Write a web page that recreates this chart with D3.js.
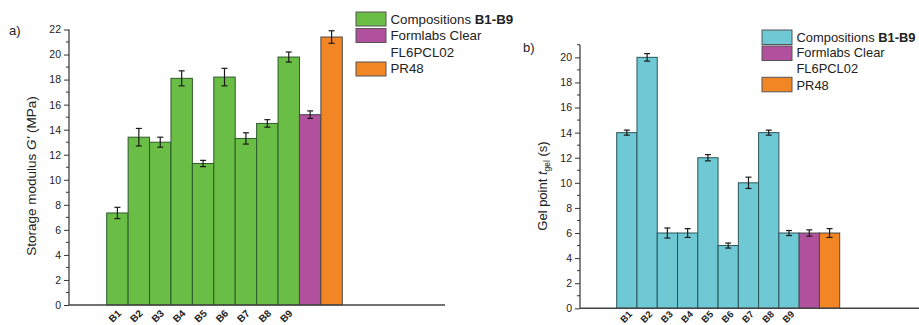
<!DOCTYPE html>
<html><head><meta charset="utf-8">
<script src="https://cdn.jsdelivr.net/npm/d3@7/dist/d3.min.js"></script>
<style>
body{margin:0;background:#fff;}
text{font-family:"Liberation Sans",Arial,sans-serif;fill:#222;}
</style></head>
<body><svg id="c" width="919" height="325"></svg>
<script>
// ---- data ----
const categories = ["B1","B2","B3","B4","B5","B6","B7","B8","B9","Formlabs","PR48"];
const tickLabels = ["B1","B2","B3","B4","B5","B6","B7","B8","B9","",""];
const groups = ["comp","comp","comp","comp","comp","comp","comp","comp","comp","formlabs","pr48"];
const storageModulus = [7.35,13.4,13.0,18.1,11.3,18.2,13.3,14.5,19.8,15.2,21.4];
const storageErr =     [0.45,0.7,0.4,0.6,0.25,0.7,0.45,0.3,0.4,0.3,0.5];
const gelPoint = [14,20,6,6,12,5,10,14,6,6,6];
const gelErr =   [0.2,0.3,0.4,0.35,0.25,0.2,0.45,0.2,0.2,0.25,0.35];
const legendLabels = [["Compositions ","B1-B9"],["Formlabs Clear",""],["FL6PCL02",""],["PR48",""]];

const svg = d3.select("#c");

function panel(o){
  const g = svg.append("g");
  const x = d3.scaleBand().domain(categories).range(o.barRange).padding(0);
  const y = d3.scaleLinear().domain(o.yDomain).range(o.yRange);
  const fill = d => d==="comp" ? o.compColor : (d==="formlabs" ? "#b1509d" : "#f28524");
  const stroke = d => d==="comp" ? o.compStroke : "#4a4a4a";
  // bars
  g.selectAll("rect.bar").data(categories).join("rect")
    .attr("x", d=>x(d)).attr("width", x.bandwidth())
    .attr("y", (d,i)=>y(o.values[i])).attr("height",(d,i)=>y(0)-y(o.values[i]))
    .attr("fill",(d,i)=>fill(groups[i])).attr("stroke",(d,i)=>stroke(groups[i])).attr("stroke-width",1);
  // error bars
  const eb = g.selectAll("g.eb").data(categories).join("g").attr("stroke","#1a1a1a").attr("stroke-width",1.2);
  eb.append("line").attr("x1",d=>x(d)+x.bandwidth()/2).attr("x2",d=>x(d)+x.bandwidth()/2)
    .attr("y1",(d,i)=>y(o.values[i]-o.err[i])).attr("y2",(d,i)=>y(o.values[i]+o.err[i]));
  eb.append("line").attr("x1",d=>x(d)+x.bandwidth()/2-3).attr("x2",d=>x(d)+x.bandwidth()/2+3)
    .attr("y1",(d,i)=>y(o.values[i]+o.err[i])).attr("y2",(d,i)=>y(o.values[i]+o.err[i]));
  eb.append("line").attr("x1",d=>x(d)+x.bandwidth()/2-3).attr("x2",d=>x(d)+x.bandwidth()/2+3)
    .attr("y1",(d,i)=>y(o.values[i]-o.err[i])).attr("y2",(d,i)=>y(o.values[i]-o.err[i]));
  // y axis
  const ya = g.append("g").attr("transform",`translate(${o.axisX},0)`);
  ya.call(d3.axisLeft(y).tickValues(d3.range(0,o.yMajorMax+1,2)).tickSize(5).tickPadding(3).tickFormat(d3.format("d")));
  ya.append("g").selectAll("line").data(d3.range(1,o.yDomain[1]+0.5,2)).join("line")
    .attr("x1",-3).attr("x2",0).attr("y1",d=>y(d)).attr("y2",d=>y(d)).attr("stroke","#333");
  ya.select(".domain").attr("d",`M0,${y(0)}V${y(o.yDomain[1])}`).attr("stroke","#333").attr("stroke-width",1.2);
  ya.selectAll(".tick line").attr("stroke","#333");
  ya.selectAll(".tick text").attr("font-size","10.5px").attr("fill","#222");
  // x axis line
  g.append("line").attr("x1",o.axisX).attr("x2",o.xAxisEnd).attr("y1",y(0)).attr("y2",y(0))
    .attr("stroke","#444").attr("stroke-width",1.6);
  // x tick labels
  const xa = g.append("g").attr("transform",`translate(0,${y(0)})`);
  xa.call(d3.axisBottom(x).tickSize(0).tickFormat((d,i)=>tickLabels[i]));
  xa.select(".domain").remove();
  xa.selectAll(".tick text").attr("x",0).attr("y",0).attr("dy",0)
    .attr("text-anchor","end").attr("font-weight","bold").attr("font-size",o.lblFont).attr("fill","#222")
    .attr("transform",`translate(${o.lblDx},${o.lblDy}) rotate(-45)`);
  // y label
  const yl = g.append("text").attr("transform",`translate(${o.ylX},${o.ylY}) rotate(-90)`)
    .attr("text-anchor","middle").attr("font-size",o.ylFont);
  o.ylabel(yl);
  // panel letter
  g.append("text").attr("x",o.letter[0]).attr("y",o.letter[1]).attr("font-size","13px").text(o.letter[2]);
  // legend
  const lg = g.append("g").attr("transform",`translate(${o.legend[0]},${o.legend[1]})`);
  const boxes = [{c:o.compColor,y:o.boxY[0]},{c:"#b1509d",y:o.boxY[1]},{c:"#f28524",y:o.boxY[2]}];
  lg.selectAll("rect").data(boxes).join("rect").attr("x",0).attr("y",d=>d.y)
    .attr("width",30).attr("height",o.boxH).attr("fill",d=>d.c).attr("stroke","#555").attr("stroke-width",1);
  legendLabels.forEach((l,i)=>{
    const t = lg.append("text").attr("x",34.5).attr("y",o.textY[i]).attr("font-size",o.legendFont);
    t.append("tspan").text(l[0]);
    if(l[1]) t.append("tspan").attr("font-weight","bold").text(l[1]);
  });
}

panel({
  barRange:[106.7,342.3], yDomain:[0,22], yRange:[305,29.5], yMajorMax:22, axisX:69, xAxisEnd:445,
  values:storageModulus, err:storageErr, compColor:"#6abd45", compStroke:"#2f5a2c",
  lblDx:4.5, lblDy:9, lblFont:"10px", ylX:36, ylY:176, ylFont:"13.5px",
  ylabel:t=>{ t.append("tspan").text("Storage modulus ");
              t.append("tspan").attr("font-style","italic").text("G'");
              t.append("tspan").text(" (MPa)"); },
  letter:[9,35,"a)"], legend:[356,12], legendFont:"13.3px",
  boxY:[0,16.5,50], boxH:14, textY:[11.5,28,44.7,61.3]
});
panel({
  barRange:[616.7,839.7], yDomain:[0,21], yRange:[308.3,44.8], yMajorMax:20, axisX:580, xAxisEnd:925,
  values:gelPoint, err:gelErr, compColor:"#6ec9d5", compStroke:"#2a5559",
  lblDx:6, lblDy:6.5, lblFont:"9.5px", ylX:547, ylY:186, ylFont:"13px",
  ylabel:t=>{ t.append("tspan").text("Gel point ");
              t.append("tspan").attr("font-style","italic").text("t");
              t.append("tspan").attr("font-size","8.5px").attr("dy","3").text("gel");
              t.append("tspan").attr("dy","-3").text(" (s)"); },
  letter:[523,52,"b)"], legend:[762,30], legendFont:"12.9px",
  boxY:[0,16,47.3], boxH:14.5, textY:[11.7,27.3,43.3,60]
});
</script></body></html>
